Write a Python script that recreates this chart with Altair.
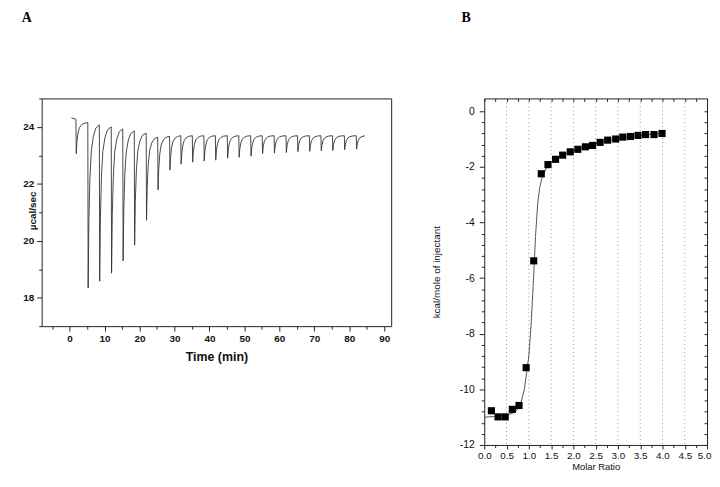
import altair as alt
import pandas as pd

# ---------------- Panel A: raw thermogram ----------------
inj_time = [1.8, 5.2, 8.5, 11.9, 15.2, 18.5, 21.9, 25.2, 28.6, 31.8, 35.1, 38.4, 41.7,
            45.1, 48.4, 51.8, 55.1, 58.5, 61.9, 65.2, 68.6, 71.9, 75.2, 78.6, 82.0]
peak_min = [23.06, 18.34, 18.58, 18.86, 19.29, 19.84, 20.72, 21.79, 22.48, 22.69, 22.76,
            22.80, 22.83, 22.90, 22.93, 22.97, 23.06, 23.08, 23.10, 23.13, 23.14, 23.16,
            23.17, 23.20, 23.22]
base_before = [24.27, 24.15, 24.07, 24.00, 23.93, 23.86, 23.78, 23.64, 23.67, 23.69, 23.69,
               23.69, 23.69, 23.69, 23.69, 23.69, 23.69, 23.69, 23.69, 23.69, 23.69, 23.69,
               23.69, 23.69, 23.69]
trace_start = (0.5, 24.32)
trace_end = (84.0, 23.69)
# peak shape: time after injection / fraction of peak depth
prof_dt = [0.0, 0.1, 0.3, 0.6, 1.0, 1.6, 2.3]
prof_frac = [0.0, 1.0, 0.6, 0.33, 0.16, 0.07, 0.02]

rows = [{"t": trace_start[0], "p": trace_start[1]}]
for i, (t0, pm, b0) in enumerate(zip(inj_time, peak_min, base_before)):
    level = base_before[i + 1] if i + 1 < len(base_before) else trace_end[1]
    rows.append({"t": t0, "p": b0})
    for dt, fr in zip(prof_dt[1:], prof_frac[1:]):
        rows.append({"t": t0 + dt, "p": level - fr * (level - pm)})
rows.append({"t": trace_end[0], "p": trace_end[1]})
dfA = pd.DataFrame(rows)
dfA["i"] = range(len(dfA))

# ---------------- Panel B: integrated heats ----------------
molar_ratio = [0.16, 0.31, 0.47, 0.63, 0.78, 0.94, 1.11, 1.28, 1.43, 1.60, 1.76, 1.93,
               2.10, 2.27, 2.43, 2.60, 2.77, 2.95, 3.11, 3.28, 3.45, 3.62, 3.81, 3.99]
kcal = [-10.77, -10.99, -10.99, -10.72, -10.58, -9.22, -5.38, -2.25, -1.92, -1.73, -1.58,
        -1.46, -1.37, -1.28, -1.23, -1.12, -1.04, -1.00, -0.93, -0.91, -0.87, -0.84,
        -0.84, -0.80]
fit_x = [0.0, 0.2, 0.4, 0.6, 0.7, 0.8, 0.9, 1.0, 1.05, 1.1, 1.15, 1.2, 1.25, 1.3, 1.4,
         1.5, 1.75, 2.0, 2.5, 3.0, 3.5, 4.0]
fit_y = [-11.0, -10.98, -10.95, -10.88, -10.8, -10.62, -10.0, -8.8, -7.7, -6.2, -4.5,
         -3.3, -2.7, -2.38, -2.02, -1.83, -1.58, -1.42, -1.17, -0.98, -0.87, -0.79]
grid_x = [0.5, 1.0, 1.5, 2.0, 2.5, 3.0, 3.5, 4.0, 4.5]

dfPts = pd.DataFrame({"mr": molar_ratio, "dh": kcal})
dfFit = pd.DataFrame({"x": fit_x, "y": fit_y})
dfGrid = pd.DataFrame({"g": grid_x})

FONT = "Liberation Sans"

# ---------- Panel A chart ----------
xA = alt.Scale(domain=[-8, 92], nice=False, zero=False)
yA = alt.Scale(domain=[17, 25], nice=False, zero=False)

thermo = alt.Chart(dfA).mark_line(color="#333333", strokeWidth=0.9).encode(
    x=alt.X("t:Q", scale=xA, axis=alt.Axis(
        title="Time (min)", values=list(range(-5, 91, 5)),
        labelExpr="datum.value >= 0 && datum.value % 10 == 0 ? toString(datum.value) : ''",
        tickSize={"condition": {"test": "datum.value % 10 == 0", "value": 5}, "value": 3},
        labelPadding=3, labelFontSize=10, labelFontWeight="bold", labelFont=FONT,
        labelOverlap=False, labelFlush=False, domain=False, grid=False,
        titleFont=FONT, titleFontSize=12.5, titleFontWeight="bold", titlePadding=7,
        tickColor="#222222", labelColor="#111111", titleColor="#111111")),
    y=alt.Y("p:Q", scale=yA, axis=alt.Axis(
        title="µcal/sec", values=list(range(17, 26)),
        labelExpr="datum.value % 2 == 0 && datum.value >= 18 && datum.value <= 24 ? toString(datum.value) : ''",
        tickSize={"condition": {"test": "datum.value % 2 == 0", "value": 5}, "value": 3},
        labelPadding=3, labelFontSize=10, labelFontWeight="bold", labelFont=FONT,
        labelOverlap=False, labelFlush=False, domain=False, grid=False,
        titleFont=FONT, titleFontSize=10, titleFontWeight="bold",
        titleX=-4, titleY=113, titleAngle=270, titleBaseline="bottom",
        tickColor="#222222", labelColor="#111111", titleColor="#111111")),
    order="i:Q",
)
textA = alt.Chart(pd.DataFrame({"lab": ["A"]})).mark_text(
    font="Liberation Serif", fontWeight="bold", fontSize=14, align="left", baseline="top",
    color="black").encode(x=alt.value(-20), y=alt.value(-88), text="lab:N")

panelA = alt.layer(thermo, textA).properties(width=353, height=230)

# ---------- Panel B chart ----------
xB = alt.Scale(domain=[0, 5], nice=False, zero=False)
yB = alt.Scale(domain=[-12, 0.46], nice=False, zero=False)
x_minor = [round(0.25 * k, 2) for k in range(21)]
y_minor = [round(-0.4 * k, 1) for k in range(31)]

grid = alt.Chart(dfGrid).mark_rule(color="#8a8a8a", strokeDash=[1, 3], strokeWidth=0.9).encode(
    x=alt.X("g:Q", scale=xB, axis=None))

fit = alt.Chart(dfFit).mark_line(color="#555555", strokeWidth=1).encode(
    x=alt.X("x:Q", scale=xB, axis=alt.Axis(
        orient="bottom", title="Molar Ratio", values=x_minor,
        labelExpr="abs(datum.value % 0.5) < 0.01 ? format(datum.value, '.1f') : ''",
        labelOffset={"condition": {"test": "datum.value >= 4.9", "value": -3}, "value": 0},
        tickSize={"condition": {"test": "abs(datum.value % 0.5) < 0.01", "value": 4}, "value": 2.5},
        labelPadding=2, labelFontSize=10, labelFont=FONT, labelOverlap=False, labelFlush=False,
        domain=False, grid=False, titleFont=FONT, titleFontSize=9.5, titleFontWeight="normal",
        titlePadding=1, tickColor="#222222", labelColor="#111111", titleColor="#111111")),
    y=alt.Y("y:Q", scale=yB, axis=alt.Axis(
        orient="left", title="kcal/mole of injectant", values=y_minor,
        labelExpr="abs(datum.value % 2) < 0.01 ? toString(round(datum.value)) : ''",
        tickSize={"condition": {"test": "abs(datum.value % 2) < 0.01", "value": 5}, "value": 3},
        labelPadding=5, labelFontSize=10.5, labelFont=FONT, labelOverlap=False, labelFlush=False,
        domain=False, grid=False, titleFont=FONT, titleFontSize=10, titleFontWeight="normal",
        titleX=-43, titleAngle=270, titleBaseline="bottom",
        tickColor="#222222", labelColor="#111111", titleColor="#111111")),
)

pts = alt.Chart(dfPts).mark_point(shape="square", filled=True, size=52, color="black",
                                  opacity=1).encode(
    x=alt.X("mr:Q", scale=xB, axis=alt.Axis(
        orient="top", offset=-3, values=x_minor, labels=False, tickSize=3, domain=False,
        grid=False, title=None, tickColor="#222222")),
    y=alt.Y("dh:Q", scale=yB, axis=alt.Axis(
        orient="right", offset=-3, values=y_minor, labels=False, tickSize=3, domain=False,
        grid=False, title=None, tickColor="#222222")),
)
textB = alt.Chart(pd.DataFrame({"lab": ["B"]})).mark_text(
    font="Liberation Serif", fontWeight="bold", fontSize=14, align="left", baseline="top",
    color="black").encode(x=alt.value(-23), y=alt.value(-88), text="lab:N")

panelB = alt.layer(grid, fit, pts, textB).resolve_axis(
    x="independent", y="independent").properties(width=225, height=350)

chart = alt.hconcat(panelA, panelB, spacing=39).properties(
    padding={"left": 13, "top": 0, "right": 0, "bottom": 0},
    background="white",
).configure_view(stroke="#222222", strokeWidth=1)

chart.save("out.html", embed_options={"renderer": "svg", "actions": False})
